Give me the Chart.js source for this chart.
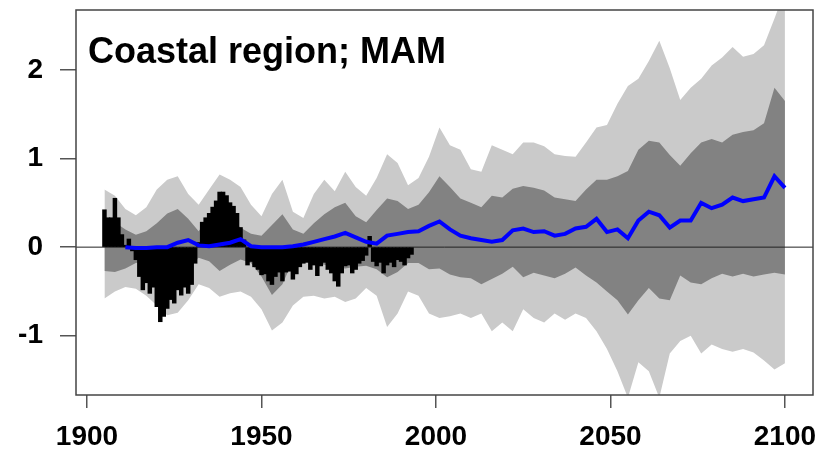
<!DOCTYPE html>
<html>
<head>
<meta charset="utf-8">
<script src="https://cdn.jsdelivr.net/npm/chart.js@4"></script>
<style>
  html, body { margin: 0; padding: 0; background: #fff; }
  #wrap { width: 825px; height: 460px; }
</style>
</head>
<body>
<div id="wrap"><canvas id="chart"></canvas></div>
<script>
// axis limits and ticks
const xMin = 1896.85, xMax = 2108.04;
const yMin = -1.669, yMax = 2.677;
const xTicks = [1900, 1950, 2000, 2050, 2100];
const yTicks = [-1, 0, 1, 2];
const titleText = "Coastal region; MAM";

// observed anomalies (black bars), one per year
const barYears = [1905,1906,1907,1908,1909,1910,1911,1912,1913,1914,1915,1916,1917,1918,1919,1920,1921,1922,1923,1924,
  1925,1926,1927,1928,1929,1930,1931,1932,1933,1934,1935,1936,1937,1938,1939,1940,1941,1942,1943,1944,
  1945,1946,1947,1948,1949,1950,1951,1952,1953,1954,1955,1956,1957,1958,1959,1960,1961,1962,1963,1964,
  1965,1966,1967,1968,1969,1970,1971,1972,1973,1974,1975,1976,1977,1978,1979,1980,1981,1982,1983,1984,
  1985,1986,1987,1988,1989,1990,1991,1992,1993];
const barVals = [0.42,0.33,0.33,0.55,0.33,0.14,0.02,0.09,-0.04,-0.14,-0.33,-0.48,-0.40,-0.52,-0.45,-0.67,-0.84,-0.78,-0.69,-0.59,
  -0.63,-0.48,-0.54,-0.45,-0.52,-0.42,-0.18,0.05,0.28,0.33,0.38,0.45,0.52,0.62,0.62,0.58,0.50,0.46,0.38,0.22,
  0.08,-0.20,-0.16,-0.22,-0.25,-0.31,-0.30,-0.38,-0.42,-0.33,-0.28,-0.38,-0.28,-0.27,-0.36,-0.30,-0.22,-0.18,-0.17,-0.25,
  -0.20,-0.32,-0.21,-0.17,-0.25,-0.29,-0.38,-0.44,-0.29,-0.21,-0.20,-0.29,-0.25,-0.18,-0.15,-0.09,0.12,-0.16,-0.21,-0.17,
  -0.29,-0.20,-0.17,-0.22,-0.14,-0.16,-0.20,-0.12,-0.08];

// model ensemble: years for bands and blue mean
const bandYears = [1905,1908,1911,1914,1917,1920,1923,1926,1929,1932,1935,1938,1941,1944,1947,1950,1953,1956,1959,1962,
  1965,1968,1971,1974,1977,1980,1983,1986,1989,1992,1995,1998,2001,2004,2007,2010,2013,2016,2019,2022,
  2025,2028,2031,2034,2037,2040,2043,2046,2049,2052,2055,2058,2061,2064,2067,2070,2073,2076,2079,2082,
  2085,2088,2091,2094,2097,2100];
// outer band (light gray) upper / lower
const outerHi = [0.65,0.58,0.43,0.36,0.45,0.65,0.76,0.80,0.60,0.48,0.65,0.82,0.76,0.68,0.48,0.35,0.60,0.76,0.40,0.33,
  0.60,0.76,0.63,0.85,0.68,0.58,0.78,1.05,0.95,0.70,0.78,1.02,1.35,1.15,1.10,0.88,0.85,1.15,1.10,1.05,
  1.18,1.18,1.14,1.05,1.03,1.02,1.18,1.35,1.38,1.62,1.82,1.90,2.10,2.33,2.02,1.66,1.80,1.90,2.05,2.14,
  2.26,2.15,2.18,2.28,2.58,2.90];
const outerLo = [-0.58,-0.50,-0.45,-0.47,-0.55,-0.66,-0.77,-0.74,-0.60,-0.42,-0.46,-0.56,-0.52,-0.50,-0.56,-0.70,-0.94,-0.85,-0.66,-0.56,
  -0.55,-0.58,-0.56,-0.62,-0.58,-0.46,-0.55,-0.90,-0.75,-0.50,-0.55,-0.75,-0.80,-0.78,-0.75,-0.80,-0.75,-0.95,-0.85,-0.95,
  -0.70,-0.80,-0.85,-0.75,-0.82,-0.75,-0.80,-0.95,-1.15,-1.40,-1.70,-1.30,-1.40,-1.70,-1.20,-1.06,-1.00,-1.20,-1.10,-1.15,
  -1.18,-1.15,-1.19,-1.28,-1.38,-1.31];
// inner band (dark gray) upper / lower
const innerHi = [0.30,0.28,0.20,0.14,0.18,0.27,0.38,0.43,0.32,0.18,0.35,0.45,0.34,0.22,0.15,0.13,0.25,0.37,0.20,0.15,
  0.27,0.37,0.45,0.50,0.35,0.28,0.42,0.55,0.52,0.43,0.48,0.62,0.80,0.68,0.55,0.50,0.45,0.58,0.56,0.66,
  0.69,0.67,0.64,0.56,0.54,0.52,0.65,0.76,0.76,0.80,0.86,1.10,1.20,1.18,1.04,0.92,1.06,1.18,1.22,1.18,
  1.27,1.30,1.32,1.40,1.80,1.65];
const innerLo = [-0.27,-0.28,-0.24,-0.18,-0.16,-0.15,-0.15,-0.18,-0.21,-0.12,-0.16,-0.27,-0.20,-0.14,-0.18,-0.33,-0.54,-0.42,-0.15,-0.10,
  -0.18,-0.20,-0.22,-0.24,-0.22,-0.21,-0.25,-0.34,-0.28,-0.18,-0.18,-0.25,-0.24,-0.31,-0.34,-0.35,-0.42,-0.36,-0.30,-0.22,
  -0.34,-0.29,-0.32,-0.35,-0.30,-0.23,-0.32,-0.40,-0.50,-0.60,-0.76,-0.60,-0.46,-0.58,-0.60,-0.32,-0.40,-0.42,-0.35,-0.30,
  -0.33,-0.30,-0.33,-0.31,-0.29,-0.31];
// ensemble mean (blue)
const meanVals = [null,null,0.00,-0.01,-0.01,0.00,0.00,0.05,0.08,0.02,0.01,0.03,0.05,0.09,0.01,0.00,0.00,0.00,0.01,0.03,
  0.06,0.09,0.12,0.16,0.11,0.06,0.04,0.13,0.15,0.17,0.18,0.24,0.29,0.20,0.13,0.10,0.08,0.06,0.08,0.19,
  0.21,0.17,0.18,0.13,0.15,0.21,0.23,0.32,0.17,0.20,0.10,0.30,0.40,0.36,0.22,0.30,0.30,0.50,0.44,0.48,
  0.56,0.52,0.54,0.56,0.80,0.67];

const lightGray = "#cacaca";
const darkGray = "#828282";
const font = "'Liberation Sans', Arial, Helvetica, sans-serif";

function pts(ys, vals) {
    return ys.map((x, i) => ({ x: x, y: vals[i] }));
}

// frame + title drawn on the canvas
const framePlugin = {
    id: "frame",
    afterDraw(chart) {
        const { ctx, chartArea: a } = chart;
        ctx.save();
        ctx.strokeStyle = "#444";
        ctx.lineWidth = 1.5;
        ctx.strokeRect(a.left, a.top, a.right - a.left, a.bottom - a.top);
        ctx.fillStyle = "#000";
        ctx.font = "bold 36px " + font;
        ctx.textBaseline = "alphabetic";
        ctx.fillText(titleText, 88, 63);
        ctx.restore();
    }
};

const bandLine = { type: "line", borderWidth: 0, pointRadius: 0, tension: 0 };

new Chart(document.getElementById("chart"), {
    data: {
        datasets: [
            { ...bandLine, label: "mean", data: pts(bandYears, meanVals), borderColor: "#0000ff",
              borderWidth: 4, order: 0, fill: false, spanGaps: false },
            { type: "bar", label: "obs", data: pts(barYears, barVals), backgroundColor: "#000",
              barPercentage: 1, categoryPercentage: 1, borderWidth: 0, inflateAmount: 0.5, order: 1 },
            { ...bandLine, label: "zero", data: [{ x: xMin, y: 0 }, { x: xMax, y: 0 }],
              borderColor: "#222", borderWidth: 1, order: 2, fill: false },
            { ...bandLine, label: "innerHi", data: pts(bandYears, innerHi), backgroundColor: darkGray,
              fill: "+1", order: 3 },
            { ...bandLine, label: "innerLo", data: pts(bandYears, innerLo), fill: false, order: 3 },
            { ...bandLine, label: "outerHi", data: pts(bandYears, outerHi), backgroundColor: lightGray,
              fill: "+1", order: 4 },
            { ...bandLine, label: "outerLo", data: pts(bandYears, outerLo), fill: false, order: 4 }
        ]
    },
    options: {
        responsive: true,
        maintainAspectRatio: false,
        animation: false,
        layout: { padding: { top: 10, right: 12, left: 0, bottom: 0 } },
        plugins: { legend: { display: false }, tooltip: { enabled: false } },
        scales: {
            x: {
                type: "linear", min: xMin, max: xMax, offset: false,
                afterBuildTicks: s => { s.ticks = xTicks.map(v => ({ value: v })); },
                afterFit: s => { s.height = 65; s.paddingLeft = 0; s.paddingRight = 0; },
                grid: { offset: false, drawOnChartArea: false, tickLength: 13, color: "#555", lineWidth: 1.5 },
                border: { display: false },
                ticks: { font: { family: font, size: 28, weight: "bold" }, color: "#000", padding: 12,
                         maxRotation: 0, autoSkip: false, callback: v => String(v) }
            },
            y: {
                type: "linear", min: yMin, max: yMax,
                afterBuildTicks: s => { s.ticks = yTicks.map(v => ({ value: v })); },
                afterFit: s => { s.width = 76; s.paddingTop = 0; s.paddingBottom = 0; },
                grid: { drawOnChartArea: false, tickLength: 16, color: "#555", lineWidth: 1.5 },
                border: { display: false },
                ticks: { font: { family: font, size: 28, weight: "bold" }, color: "#000", padding: 17,
                         callback: v => String(v) }
            }
        }
    },
    plugins: [framePlugin]
});
</script>
</body>
</html>
